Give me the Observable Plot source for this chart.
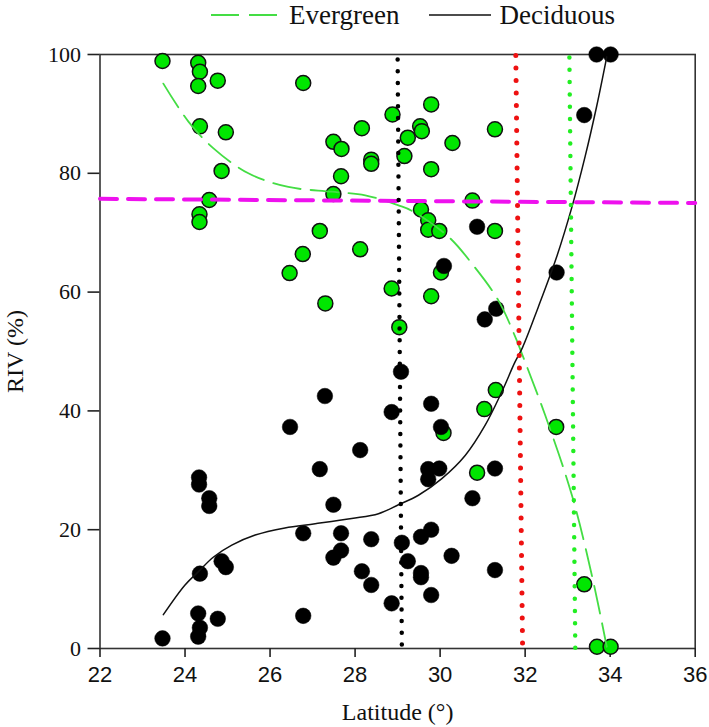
<!DOCTYPE html>
<html><head><meta charset="utf-8">
<script src="https://cdn.jsdelivr.net/npm/d3@7"></script>
<script src="https://cdn.jsdelivr.net/npm/@observablehq/plot@0.6"></script>
<style>
body{margin:0;background:#fff;}
#wrap{position:relative;width:709px;height:727px;background:#fff;}
#legend{position:absolute;left:211px;top:0;height:30px;display:flex;align-items:center;font-family:"Liberation Serif","Times New Roman",serif;font-size:27px;color:#111;white-space:nowrap;}
#chart{position:absolute;left:0;top:30px;}
</style></head><body>
<div id="wrap">
  <div id="legend">
    <svg width="66" height="10"><line x1="0" y1="5" x2="66" y2="5" stroke="#44dd44" stroke-width="2" stroke-dasharray="28 10"/></svg>
    <span style="margin-left:12px">Evergreen</span>
    <svg style="margin-left:30px" width="62" height="10"><line x1="0" y1="5" x2="62" y2="5" stroke="#111" stroke-width="1.6"/></svg>
    <span style="margin-left:8px">Deciduous</span>
  </div>
  <div id="chart"></div>
</div>
<script>
// Evergreen sites
const evergreenLat = [23.47,24.31,24.35,24.31,24.77,26.78,24.35,24.96,24.86,24.57,24.34,24.34,27.49,27.68,28.16,28.88,28.38,28.38,27.67,27.49,27.17,28.12,26.77,26.46,27.30,28.86,29.04,
  29.79,29.53,29.57,29.24,30.29,31.29,29.16,29.79,30.76,29.55,29.72,29.72,29.98,31.29,30.02,29.79,
  31.31,31.04,30.08,30.87,32.73,33.39,33.69,34.01];
const evergreenRIV = [98.9,98.6,97.1,94.7,95.6,95.2,87.9,86.9,80.4,75.5,73.1,71.8,85.3,84.1,87.6,89.9,82.3,81.6,79.5,76.5,70.3,67.2,66.4,63.2,58.1,60.6,54.1,
  91.6,87.9,87.1,86.0,85.1,87.4,82.9,80.7,75.4,73.9,72.1,70.5,70.3,70.3,63.3,59.3,
  43.5,40.3,36.3,29.6,37.3,10.8,0.3,0.3];
// Deciduous sites
const deciduousLat = [33.68,34.01,33.39,30.87,30.09,32.74,31.32,31.05,
  27.29,26.47,28.86,29.08,28.12,27.17,24.33,24.33,24.57,24.57,27.49,26.78,27.67,28.38,29.10,27.67,27.49,24.86,24.96,24.35,28.16,28.38,28.86,26.78,24.31,24.77,24.35,24.31,23.47,
  29.79,30.02,29.72,29.98,29.72,31.29,30.76,29.79,29.55,29.24,30.27,29.55,29.55,31.29,29.79];
const deciduousRIV = [100,100,89.8,71.0,64.4,63.3,57.2,55.4,
  42.5,37.3,39.8,46.6,33.4,30.2,28.8,27.6,25.3,24.0,24.2,19.4,19.4,18.4,17.8,16.5,15.3,14.7,13.7,12.6,13.0,10.7,7.6,5.5,5.9,5.0,3.5,2.0,1.7,
  41.2,37.3,30.2,30.3,28.5,30.3,25.3,20.0,18.8,14.7,15.6,12.7,12.0,13.2,9.0];
// Fitted curves
const evCurveLat = [23.49,24.08,24.67,25.49,26.43,27.45,28.24,29.02,29.33,30.2,30.78,31.37,31.8,31.92,32.47,33.1,33.57,33.92];
const evCurveRIV = [95.1,88.7,84.2,80.0,77.7,76.9,76.3,74.6,73.7,69.3,64.5,58.6,51.9,49.7,39.3,25.8,12.3,0.3];
const deCurveLat = [23.49,24.0,24.31,24.67,25.1,25.65,26.35,27.06,27.92,28.55,29.02,29.49,30.04,30.59,31.06,31.45,31.76,31.94,32.31,32.74,33.1,33.41,33.68,33.92];
const deCurveRIV = [5.7,10.7,12.9,15.4,17.4,19.1,20.3,21.0,21.9,22.7,24.2,25.8,28.6,32.5,37.6,43.2,48.2,50.7,57.5,65.9,74.3,82.8,91.2,99.6];
// Reference lines
const blackDotLat = [29.0, 29.1];
const redDotLat = [31.78, 31.94];
const greenDotLat = [33.04, 33.18];
const vertRIV = [100, 0];
const magentaLat = [22, 36];
const magentaRIV = [75.7, 75.0];
// Ticks
const xTicks = [22,24,26,28,30,32,34,36];
const yTicks = [0,20,40,60,80,100];

const toRows = (xs, ys) => xs.map((x, i) => ({x, y: ys[i]}));

const chart = Plot.plot({
  width: 709,
  height: 697,
  marginTop: 24,
  marginBottom: 79,
  marginLeft: 99.5,
  marginRight: 14.3,
  style: {background: "white", color: "#111", overflow: "visible"},
  x: {domain: [22, 36]},
  y: {domain: [0, 100]},
  marks: [
    Plot.frame({stroke: "#333", strokeWidth: 1.6}),
    Plot.axisX({ticks: xTicks, tickSize: 9, tickPadding: 9, strokeWidth: 1.6, fontSize: 22, fontFamily: "Liberation Sans, Arial, sans-serif",
      label: "Latitude (°)", labelAnchor: "center", labelOffset: 71, labelArrow: "none"}),
    Plot.axisY({ticks: yTicks, tickSize: 12, tickPadding: 7, strokeWidth: 1.6, fontSize: 22, fontFamily: "Liberation Serif, Times New Roman, serif",
      label: "RIV (%)", labelAnchor: "center", labelOffset: 94, labelArrow: "none"}),
    Plot.dot(toRows(evergreenLat, evergreenRIV), {x: "x", y: "y", r: 7.5, fill: "#00e600", stroke: "#111", strokeWidth: 1.5}),
    Plot.dot(toRows(deciduousLat, deciduousRIV), {x: "x", y: "y", r: 7.8, fill: "#000", stroke: "#000", strokeWidth: 0.5}),
    Plot.line(toRows(evCurveLat, evCurveRIV), {x: "x", y: "y", curve: "catmull-rom", stroke: "#44dd44", strokeWidth: 1.8, strokeDasharray: "28 10"}),
    Plot.line(toRows(deCurveLat, deCurveRIV), {x: "x", y: "y", curve: "catmull-rom", stroke: "#111", strokeWidth: 1.5}),
    Plot.line(toRows(magentaLat, magentaRIV), {x: "x", y: "y", stroke: "#ee11ee", strokeWidth: 4, strokeDasharray: "17 11", strokeLinecap: "round"}),
    Plot.line(toRows(blackDotLat, vertRIV), {x: "x", y: "y", stroke: "#000", strokeWidth: 4.5, strokeDasharray: "0 11.7", strokeDashoffset: -5, strokeLinecap: "round"}),
    Plot.line(toRows(redDotLat, vertRIV), {x: "x", y: "y", stroke: "#ee1111", strokeWidth: 5, strokeDasharray: "0 12.5", strokeDashoffset: -1, strokeLinecap: "round"}),
    Plot.line(toRows(greenDotLat, vertRIV), {x: "x", y: "y", stroke: "#22ee22", strokeWidth: 4.5, strokeDasharray: "0 12.3", strokeDashoffset: -3, strokeLinecap: "round"})
  ]
});
document.getElementById("chart").appendChild(chart);

// font styling fallback for axis labels
const svg = d3.select(chart);
svg.selectAll('g[aria-label="x-axis tick label"]').attr("font-family", "Liberation Sans, Arial, sans-serif").attr("font-size", 22);
svg.selectAll('g[aria-label="y-axis tick label"]').attr("font-family", "Liberation Serif, Times New Roman, serif").attr("font-size", 22);
svg.selectAll('g[aria-label="x-axis label"], g[aria-label="y-axis label"]').attr("font-family", "Liberation Serif, Times New Roman, serif").attr("font-size", 24);
svg.selectAll('g[aria-label="x-axis tick"], g[aria-label="y-axis tick"]').attr("stroke", "#222");
</script></body></html>
